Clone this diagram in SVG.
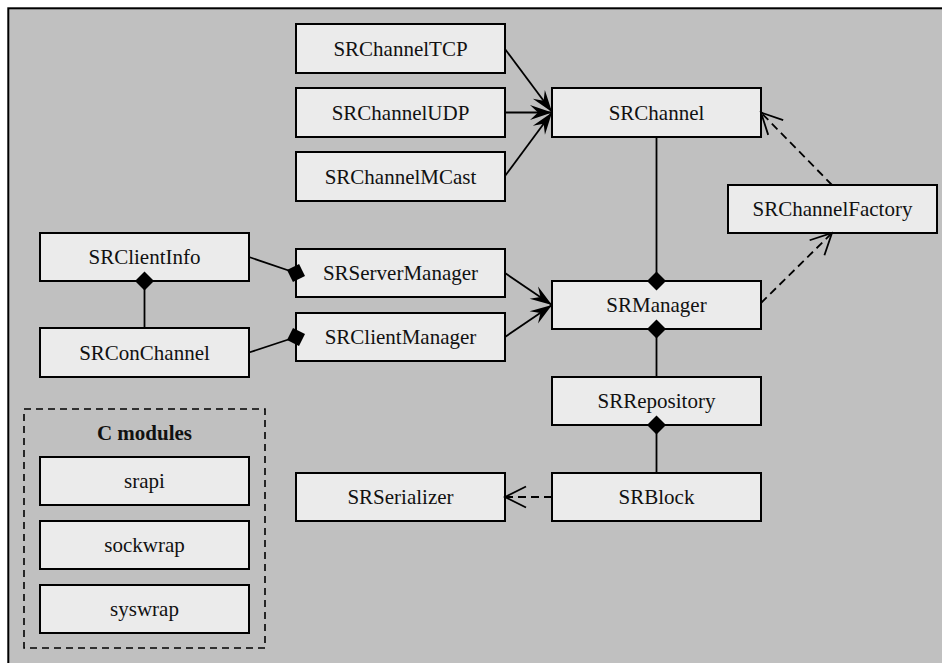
<svg xmlns="http://www.w3.org/2000/svg" width="942" height="663" viewBox="0 0 942 663">
<style>
.box{fill:#ebebeb;stroke:#000;stroke-width:2}
.lbl{font-size:21px;fill:#111;text-anchor:middle}
.bold{font-weight:bold}
.ln{fill:none;stroke:#000;stroke-width:1.8}
.dash{stroke-dasharray:8,5}
</style>
<defs>
<marker id="vee" markerUnits="userSpaceOnUse" viewBox="-24 -10 26 20" markerWidth="26" markerHeight="20" refX="0" refY="0" orient="auto">
<path d="M0,0 L-22,-7.5 L-14,0 L-22,7.5 Z" fill="#000"/>
</marker>
<marker id="open" markerUnits="userSpaceOnUse" viewBox="-25 -13 27 26" markerWidth="27" markerHeight="26" refX="0" refY="0" orient="auto">
<path d="M-21,-10.5 L0,0 L-21,10.5" fill="none" stroke="#000" stroke-width="1.8"/>
</marker>
<marker id="dia" markerUnits="userSpaceOnUse" viewBox="-11 -11 22 22" markerWidth="22" markerHeight="22" refX="0" refY="0" orient="auto">
<path d="M-9.5,0 L0,-9.5 L9.5,0 L0,9.5 Z" fill="#000"/>
</marker>
</defs>
<rect x="0" y="0" width="942" height="663" fill="#ffffff"/>
<rect x="8.3" y="8.3" width="945" height="670" fill="#c0c0c0" stroke="#000" stroke-width="2"/>

<g font-family="'Liberation Serif', 'Times New Roman', 'DejaVu Serif', serif">
<g id="SRChannelTCP"><rect class="box" x="296" y="24" width="209" height="49"/><text class="lbl" x="400.5" y="55.5">SRChannelTCP</text></g>
<g id="SRChannelUDP"><rect class="box" x="296" y="88" width="209" height="49"/><text class="lbl" x="400.5" y="119.5">SRChannelUDP</text></g>
<g id="SRChannelMCast"><rect class="box" x="296" y="152" width="209" height="49"/><text class="lbl" x="400.5" y="183.5">SRChannelMCast</text></g>
<g id="SRChannel"><rect class="box" x="552" y="88" width="209" height="49"/><text class="lbl" x="656.5" y="119.5">SRChannel</text></g>
<g id="SRChannelFactory"><rect class="box" x="728" y="185" width="209" height="48"/><text class="lbl" x="832.5" y="216">SRChannelFactory</text></g>
<g id="SRClientInfo"><rect class="box" x="40" y="233" width="209" height="48"/><text class="lbl" x="144.5" y="264">SRClientInfo</text></g>
<g id="SRConChannel"><rect class="box" x="40" y="328" width="209" height="49"/><text class="lbl" x="144.5" y="359.5">SRConChannel</text></g>
<g id="SRServerManager"><rect class="box" x="296" y="249" width="209" height="48"/><text class="lbl" x="400.5" y="280">SRServerManager</text></g>
<g id="SRClientManager"><rect class="box" x="296" y="313" width="209" height="48"/><text class="lbl" x="400.5" y="344">SRClientManager</text></g>
<g id="SRManager"><rect class="box" x="552" y="281" width="209" height="48"/><text class="lbl" x="656.5" y="312">SRManager</text></g>
<g id="SRRepository"><rect class="box" x="552" y="377" width="209" height="48"/><text class="lbl" x="656.5" y="408">SRRepository</text></g>
<g id="SRSerializer"><rect class="box" x="296" y="473" width="209" height="48"/><text class="lbl" x="400.5" y="504">SRSerializer</text></g>
<g id="SRBlock"><rect class="box" x="552" y="473" width="209" height="48"/><text class="lbl" x="656.5" y="504">SRBlock</text></g>

<g id="CModules">
<rect x="24" y="409" width="241" height="239" fill="none" stroke="#000" stroke-width="1.6" stroke-dasharray="7,5"/>
<text class="lbl bold" x="144.5" y="439.5">C modules</text>
</g>
<g id="srapi"><rect class="box" x="40" y="457" width="209" height="48"/><text class="lbl" x="144.5" y="488">srapi</text></g>
<g id="sockwrap"><rect class="box" x="40" y="521" width="209" height="48"/><text class="lbl" x="144.5" y="552">sockwrap</text></g>
<g id="syswrap"><rect class="box" x="40" y="585" width="209" height="48"/><text class="lbl" x="144.5" y="616">syswrap</text></g>
</g>

<g id="connectors">
<path class="ln" d="M505,49 L552,112" marker-end="url(#vee)"/>
<path class="ln" d="M505,112.5 L552,112.5" marker-end="url(#vee)"/>
<path class="ln" d="M505,176 L552,112.5" marker-end="url(#vee)"/>
<path class="ln dash" d="M832,185 L761,112.5" marker-end="url(#open)"/>
<path class="ln dash" d="M761,303 L832,233" marker-end="url(#open)"/>
<path class="ln" d="M656.5,137 L656.5,281" marker-end="url(#dia)"/>
<path class="ln" d="M249,257 L296,273" marker-end="url(#dia)"/>
<path class="ln" d="M249,352.5 L296,337" marker-end="url(#dia)"/>
<path class="ln" d="M144.5,328 L144.5,281" marker-end="url(#dia)"/>
<path class="ln" d="M505,273 L552,305" marker-end="url(#vee)"/>
<path class="ln" d="M505,337 L552,305" marker-end="url(#vee)"/>
<path class="ln" d="M656.5,377 L656.5,329" marker-end="url(#dia)"/>
<path class="ln" d="M656.5,473 L656.5,425" marker-end="url(#dia)"/>
<path class="ln dash" d="M552,497 L505,497" marker-end="url(#open)"/>
</g>
</svg>
